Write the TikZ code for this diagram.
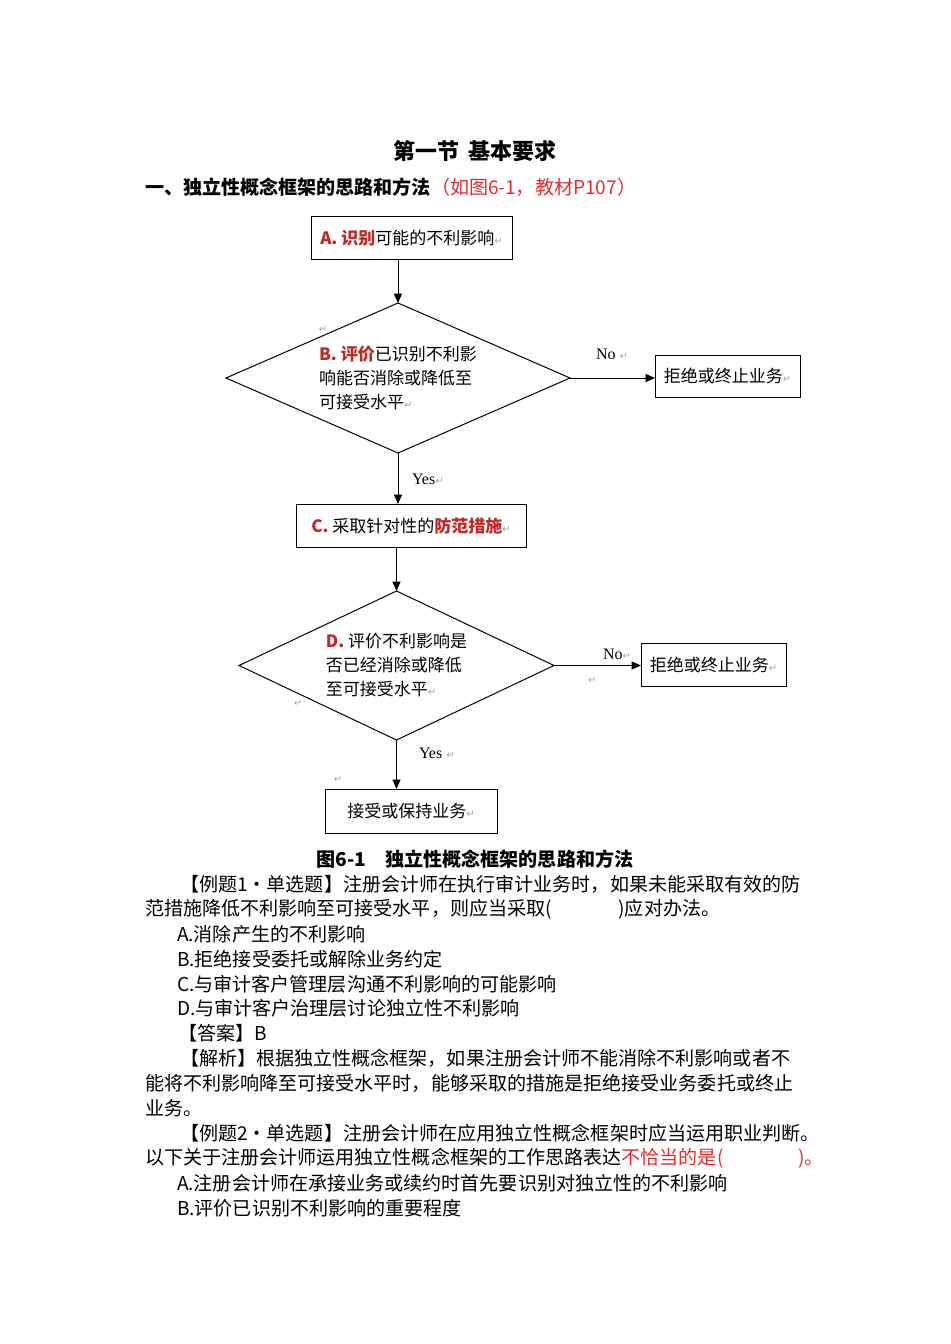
\documentclass[tikz,border=0pt]{standalone}
\usepackage{fontspec}
\setmainfont{Noto Sans CJK SC}
\newfontfamily\symfont{DejaVu Sans}
\newfontfamily\latinserif{Liberation Serif}
\usetikzlibrary{shapes.geometric,arrows.meta}
\definecolor{markred}{RGB}{192,40,40}
\definecolor{notered}{RGB}{228,45,45}
\newcommand{\parmark}{{\symfont\fontsize{7.5pt}{7.5pt}\selectfont\textcolor{gray!70}{↵}}}
\newcommand{\chartfont}{\fontsize{12.75pt}{18pt}\selectfont}
\newcommand{\bodyfont}{\fontsize{14.3pt}{18pt}\selectfont}

\begin{document}
\begin{tikzpicture}[x=0.75pt,y=-0.75pt,
  every node/.style={inner sep=0pt, outer sep=0pt},
  box/.style={draw, line width=0.75pt, font=\chartfont},
  decision/.style={draw, diamond, aspect=2.3, line width=0.75pt, align=left, font=\chartfont},
  arr/.style={-{Triangle[length=7pt,width=6pt]}, line width=0.75pt},
  label/.style={anchor=west, font=\latinserif\fontsize{12pt}{14pt}\selectfont},
  para/.style={anchor=west, font=\bodyfont}]

\fill[white] (0,0) rectangle (950,1344);
\useasboundingbox (0,0) rectangle (950,1344);

% headings
\node[font=\fontsize{16.5pt}{20pt}\selectfont\bfseries] (title) at (475,151) {第一节\hspace{7pt}基本要求};
\node[para, font=\bodyfont\bfseries] (head) at (145,187) {一、独立性概念框架的思路和方法\textcolor{notered}{\mdseries（如图6-1，教材P107）}};

% flow chart
\node[box, minimum width=150.75pt, minimum height=32.25pt] (idA) at (411.5,238.5)
  {\textcolor{markred}{\bfseries A.\ 识别}可能的不利影响\parmark};
\node[decision, minimum width=258pt, minimum height=112.5pt] (evalB) at (398,378)
  {\textcolor{markred}{\bfseries B.\ 评价}已识别不利影\\响能否消除或降低至\\可接受水平\parmark};
\node[box, minimum width=108.75pt, minimum height=31.5pt] (stopB) at (727.5,376)
  {拒绝或终止业务\parmark};
\node[box, minimum width=172.5pt, minimum height=32.25pt] (safeC) at (411,525.5)
  {\textcolor{markred}{\bfseries C.}\ 采取针对性的\textcolor{markred}{\bfseries 防范措施}\parmark};
\node[decision, minimum width=236.25pt, minimum height=111.75pt] (evalD) at (396.5,665.5)
  {\textcolor{markred}{\bfseries D.}\ 评价不利影响是\\否已经消除或降低\\至可接受水平\parmark};
\node[box, minimum width=108.75pt, minimum height=32.25pt] (stopD) at (713.5,664.5)
  {拒绝或终止业务\parmark};
\node[box, minimum width=129pt, minimum height=33pt] (keep) at (411,811)
  {接受或保持业务\parmark};

\draw[arr] (idA.south -| evalB.north) -- (evalB.north);
\draw[arr] (evalB.east) -- (stopB.west |- evalB.east);
\draw[arr] (evalB.south) -- (evalB.south |- safeC.north);
\draw[arr] (safeC.south -| evalD.north) -- (evalD.north);
\draw[arr] (evalD.east) -- (stopD.west |- evalD.east);
\draw[arr] (evalD.south) -- (evalD.south |- keep.north);

\node[label] (noB) at (596,354) {No \parmark};
\node[label] (yesB) at (412,479) {Yes\parmark};
\node[label] (noD) at (603,654) {No\parmark};
\node[label] (yesD) at (419,753) {Yes \parmark};

% stray paragraph marks
\node (pm1) at (323,329) {\parmark};
\node (pm2) at (592,680) {\parmark};
\node (pm3) at (298,703) {\parmark};
\node (pm4) at (338,779) {\parmark};

\node[font=\bodyfont\bfseries] (caption) at (475,859) {图6-1\quad 独立性概念框架的思路和方法};

% questions
\node[para] (q1a) at (180,884) {【例题1・单选题】注册会计师在执行审计业务时，如果未能采取有效的防};
\node[para] (q1b) at (145,909) {范措施降低不利影响至可接受水平，则应当采取(\hspace{50pt})应对办法。};
\node[para] (q1A) at (177,934) {A.消除产生的不利影响};
\node[para] (q1B) at (177,959) {B.拒绝接受委托或解除业务约定};
\node[para] (q1C) at (177,984) {C.与审计客户管理层沟通不利影响的可能影响};
\node[para] (q1D) at (177,1008) {D.与审计客户治理层讨论独立性不利影响};
\node[para] (ans1) at (178,1033) {【答案】B};
\node[para] (expa) at (180,1058) {【解析】根据独立性概念框架，如果注册会计师不能消除不利影响或者不};
\node[para] (expb) at (145,1083) {能将不利影响降至可接受水平时，能够采取的措施是拒绝接受业务委托或终止};
\node[para] (expc) at (145,1108) {业务。};
\node[para] (q2a) at (180,1133) {【例题2・单选题】注册会计师在应用独立性概念框架时应当运用职业判断。};
\node[para] (q2b) at (145,1158) {以下关于注册会计师运用独立性概念框架的工作思路表达\textcolor{notered}{不恰当的是(\hspace{56pt})。}};
\node[para] (q2A) at (177,1183) {A.注册会计师在承接业务或续约时首先要识别对独立性的不利影响};
\node[para] (q2B) at (177,1208) {B.评价已识别不利影响的重要程度};
\end{tikzpicture}
\end{document}
